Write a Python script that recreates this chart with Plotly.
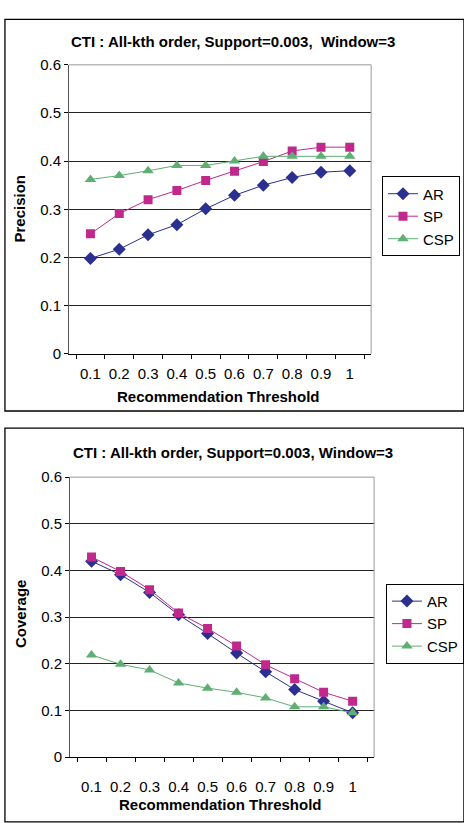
import plotly.graph_objects as go

W, H = 464, 823

thresholds = ["0.1", "0.2", "0.3", "0.4", "0.5", "0.6", "0.7", "0.8", "0.9", "1"]
y_ticks = [0, 0.1, 0.2, 0.3, 0.4, 0.5, 0.6]
y_tick_text = ["0", "0.1", "0.2", "0.3", "0.4", "0.5", "0.6"]

prec_ar = [0.198, 0.217, 0.247, 0.268, 0.301, 0.329, 0.350, 0.366, 0.377, 0.380]
prec_sp = [0.249, 0.291, 0.320, 0.339, 0.360, 0.379, 0.399, 0.421, 0.429, 0.429]
prec_csp = [0.362, 0.370, 0.380, 0.391, 0.391, 0.400, 0.410, 0.410, 0.410, 0.410]

cov_ar = [0.420, 0.391, 0.353, 0.305, 0.265, 0.223, 0.183, 0.145, 0.120, 0.095]
cov_sp = [0.429, 0.398, 0.359, 0.309, 0.276, 0.238, 0.198, 0.168, 0.139, 0.120]
cov_csp = [0.219, 0.199, 0.187, 0.159, 0.148, 0.139, 0.127, 0.108, 0.108, 0.095]

title_top = "CTI : All-kth order, Support=0.003,  Window=3"
title_bot = "CTI : All-kth order, Support=0.003, Window=3"

FONT = "Liberation Sans, Arial, sans-serif"
C_AR, C_SP, C_CSP = "#2b2f8f", "#c0288c", "#5fae72"

def px(x):
    return x / W

def py(y):
    return 1 - y / H

fig = go.Figure()

series = [("AR", C_AR, "diamond", 10), ("SP", C_SP, "square", 9), ("CSP", C_CSP, "triangle-up", 10)]
top_data = [prec_ar, prec_sp, prec_csp]
bot_data = [cov_ar, cov_sp, cov_csp]

for (name, col, sym, sz), vals in zip(series, top_data):
    fig.add_trace(go.Scatter(x=thresholds, y=vals, name=name, mode="lines+markers",
                             line=dict(color=col, width=1),
                             marker=dict(symbol=sym, size=sz, color=col),
                             xaxis="x", yaxis="y", legend="legend"))
for (name, col, sym, sz), vals in zip(series, bot_data):
    fig.add_trace(go.Scatter(x=thresholds, y=vals, name=name, mode="lines+markers",
                             line=dict(color=col, width=1),
                             marker=dict(symbol=sym, size=sz, color=col),
                             xaxis="x2", yaxis="y2", legend="legend2"))

def xaxis(dom, anchor, standoff):
    return dict(domain=dom, anchor=anchor, type="category", tickson="boundaries",
                ticks="outside", ticklen=4, tickcolor="#000", showline=True,
                linecolor="#000", linewidth=1, mirror=False, showgrid=False,
                ticklabelstandoff=standoff, tickangle=0,
                tickfont=dict(family=FONT, size=15, color="#000"), fixedrange=True)

def yaxis(dom, anchor):
    return dict(domain=dom, anchor=anchor, range=[0, 0.6], tickvals=y_ticks,
                ticktext=y_tick_text, ticks="outside", ticklen=4, tickcolor="#000",
                showline=True, linecolor="#555", linewidth=1, showgrid=True,
                gridcolor="#222", gridwidth=1, zeroline=False,
                tickfont=dict(family=FONT, size=15, color="#000"), fixedrange=True)

fig.update_layout(
    width=W, height=H, margin=dict(l=0, r=0, t=0, b=0),
    paper_bgcolor="white", plot_bgcolor="white",
    xaxis=xaxis([px(70), px(376)], "y", 6),
    yaxis=yaxis([py(352), py(57)], "x"),
    xaxis2=xaxis([px(71), px(379)], "y2", 16),
    yaxis2=yaxis([py(764), py(478)], "x2"),
    legend=dict(x=px(387), y=py(171), xanchor="left", yanchor="top",
                bordercolor="#000", borderwidth=1, bgcolor="white",
                font=dict(family=FONT, size=15, color="#000"), tracegroupgap=0),
    legend2=dict(x=px(391), y=py(587), xanchor="left", yanchor="top",
                 bordercolor="#000", borderwidth=1, bgcolor="white",
                 font=dict(family=FONT, size=15, color="#000"), tracegroupgap=0),
    showlegend=True,
)

# plot area right/top borders (grey)
for (x0, x1, y0, y1) in [(70, 376, 57, 352), (71, 379, 478, 764)]:
    fig.add_shape(type="line", xref="paper", yref="paper", x0=px(x0), x1=px(x1), y0=py(y0), y1=py(y0),
                  line=dict(color="#999", width=1))
    fig.add_shape(type="line", xref="paper", yref="paper", x0=px(x1), x1=px(x1), y0=py(y0), y1=py(y1),
                  line=dict(color="#999", width=1))

# outer chart frames
fig.add_shape(type="rect", xref="paper", yref="paper", x0=px(5), x1=px(470), y0=py(410.5), y1=py(10.5),
              line=dict(color="#000", width=1.3))
fig.add_shape(type="rect", xref="paper", yref="paper", x0=px(5), x1=px(470), y0=py(830), y1=py(428),
              line=dict(color="#000", width=1.3))

ann = [
    (236, 33, title_top, 0, 15),
    (236, 453, title_bot, 0, 15),
    (221, 396, "Recommendation Threshold", 0, 15),
    (223, 812, "Recommendation Threshold", 0, 15),
    (20, 204, "Precision", -90, 15),
    (20, 618, "Coverage", -90, 15),
]
for x, y, t, ang, s in ann:
    fig.add_annotation(x=px(x), y=py(y), xref="paper", yref="paper", text="<b>%s</b>" % t,
                       showarrow=False, textangle=ang, xanchor="center", yanchor="middle",
                       font=dict(family=FONT, size=s, color="#000"))

fig.write_html("out.html")
